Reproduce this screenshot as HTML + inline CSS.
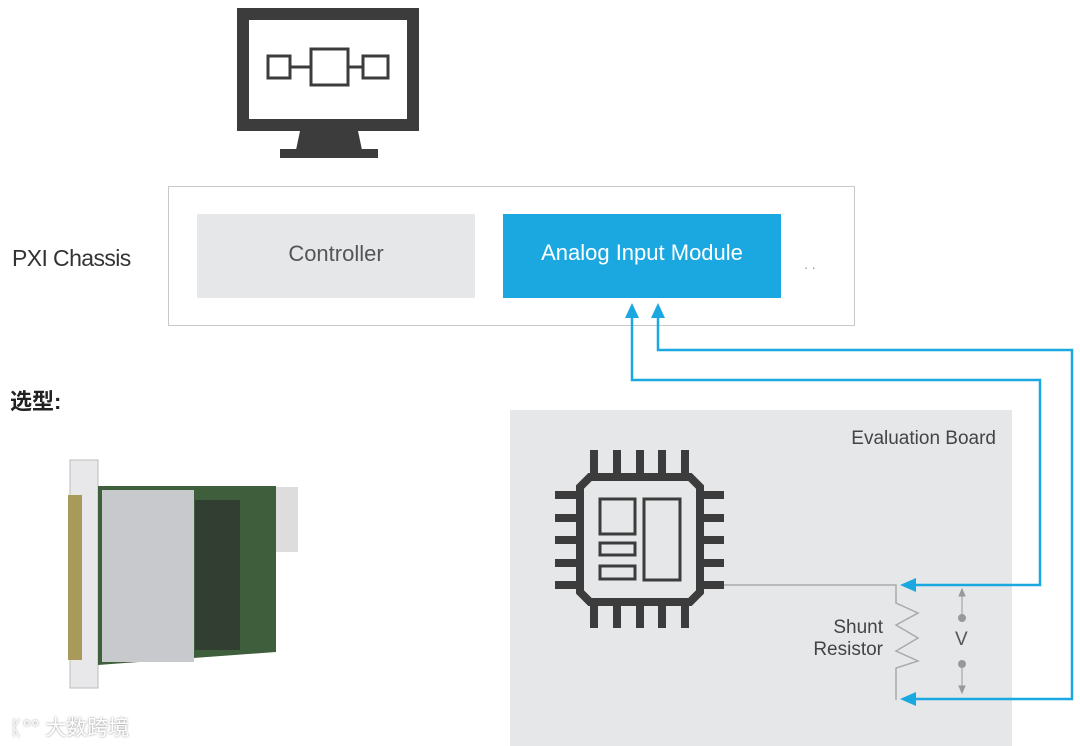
<!DOCTYPE html>
<html><head><meta charset="utf-8"><style>
body{margin:0;width:1080px;height:746px;background:#fff;position:relative;overflow:hidden;font-family:"Liberation Sans","Noto Sans CJK SC",sans-serif}
.a{position:absolute}
</style></head><body>
<svg class="a" style="left:0;top:0" width="1080" height="746">
<rect x="243" y="14" width="170" height="111" fill="#fff" stroke="#3c3c3c" stroke-width="12"/>
<polygon points="300,131 358,131 362,150 296,150" fill="#3c3c3c"/>
<rect x="280" y="149" width="98" height="9" fill="#3c3c3c"/>
<g fill="none" stroke="#3c3c3c" stroke-width="3">
<rect x="268" y="56" width="22" height="22"/><rect x="311" y="49" width="37" height="36"/><rect x="363" y="56" width="25" height="22"/>
<line x1="290" y1="67" x2="311" y2="67"/><line x1="348" y1="67" x2="363" y2="67"/></g>
<rect x="168.5" y="186.5" width="686" height="139" fill="#fff" stroke="#c8c8c8"/>
<rect x="197" y="214" width="278" height="84" fill="#e6e7e8"/>
<rect x="503" y="214" width="278" height="84" fill="#1ba8e0"/>
<rect x="510" y="410" width="502" height="336" fill="#e6e7e8"/>
<g fill="#3c3c3c">
<rect x="590" y="450" width="8" height="24"/><rect x="613" y="450" width="8" height="24"/><rect x="636" y="450" width="8" height="24"/><rect x="658" y="450" width="8" height="24"/><rect x="681" y="450" width="8" height="24"/>
<rect x="590" y="604" width="8" height="24"/><rect x="613" y="604" width="8" height="24"/><rect x="636" y="604" width="8" height="24"/><rect x="658" y="604" width="8" height="24"/><rect x="681" y="604" width="8" height="24"/>
<rect x="555" y="491" width="24" height="8"/><rect x="555" y="514" width="24" height="8"/><rect x="555" y="536" width="24" height="8"/><rect x="555" y="559" width="24" height="8"/><rect x="555" y="581" width="24" height="8"/>
<rect x="700" y="491" width="24" height="8"/><rect x="700" y="514" width="24" height="8"/><rect x="700" y="536" width="24" height="8"/><rect x="700" y="559" width="24" height="8"/><rect x="700" y="581" width="24" height="8"/>
</g>
<polygon points="590,477 690,477 700,487 700,592 690,602 590,602 580,592 580,487" fill="#e6e7e8" stroke="#3c3c3c" stroke-width="8"/>
<g fill="none" stroke="#3c3c3c" stroke-width="3">
<rect x="600" y="499" width="35" height="35"/><rect x="644" y="499" width="36" height="81"/>
<rect x="600" y="543" width="35" height="12"/><rect x="600" y="566" width="35" height="13"/></g>
<polyline points="724,585 896,585 896,603 918,613 896,625 918,638 896,651 918,661 896,668 896,700" fill="none" stroke="#aaa" stroke-width="1.5"/>
<g stroke="#999" fill="#999"><line x1="962" y1="592" x2="962" y2="618"/><polygon points="959,596 965,596 962,589"/><circle cx="962" cy="618" r="3.5"/>
<circle cx="962" cy="664" r="3.5"/><line x1="962" y1="664" x2="962" y2="690"/><polygon points="959,686 965,686 962,693"/></g>
<g fill="none" stroke="#1ba8e0" stroke-width="2.5">
<polyline points="912,585 1040,585 1040,380 632,380 632,316"/>
<polyline points="912,699 1072,699 1072,350 658,350 658,316"/></g>
<g fill="#1ba8e0"><polygon points="900,585 916,578 916,592"/><polygon points="900,699 916,692 916,706"/>
<polygon points="632,303 625,318 639,318"/><polygon points="658,303 651,318 665,318"/></g>
<rect x="70" y="460" width="28" height="228" fill="#e8e8ea" stroke="#bbb"/>
<rect x="68" y="495" width="14" height="165" fill="#a89a5a"/>
<polygon points="98,486 276,486 276,652 98,665" fill="#3f5e3c"/>
<rect x="102" y="490" width="92" height="172" fill="#c8c9cc"/>
<rect x="195" y="500" width="45" height="150" fill="#2a2a2a" opacity=".6"/>
<rect x="276" y="487" width="22" height="65" fill="#ddd"/>
</svg>
<div class="a" style="left:12px;top:245px;font-size:23px;letter-spacing:-0.6px;color:#333">PXI Chassis</div>
<div class="a" style="left:197px;top:241px;width:278px;text-align:center;font-size:22px;color:#555">Controller</div>
<div class="a" style="left:503px;top:240px;width:278px;text-align:center;font-size:22px;color:#fff">Analog Input Module</div>
<div class="a" style="left:804px;top:256px;font-size:14px;color:#999">. .</div>
<div class="a" style="left:10px;top:384px;font-size:22px;font-weight:bold;color:#222">选型:</div>
<div class="a" style="left:780px;top:428px;width:216px;text-align:right;font-size:19px;color:#444">Evaluation Board</div>
<div class="a" style="left:780px;top:617px;width:103px;text-align:right;font-size:19px;line-height:22px;color:#444">Shunt<br>Resistor</div>
<div class="a" style="left:955px;top:629px;font-size:19px;color:#555">V</div>
<div class="a" style="left:10px;top:712px;font-size:21px;color:#fff;text-shadow:0 0 2px #888">ᛕ°° 大数跨境</div>
</body></html>
